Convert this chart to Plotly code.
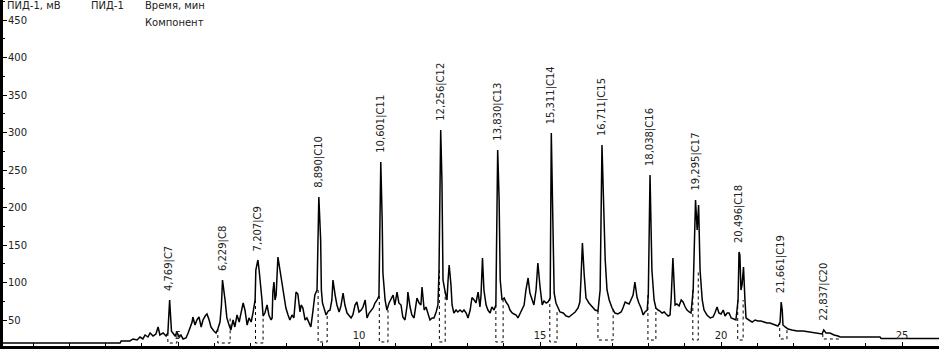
import plotly.graph_objects as go

# ---- chromatogram signal (time, min ; signal, mV) ----
time = [0.14, 3.40, 3.43, 3.67, 3.76, 3.87, 3.95, 4.03, 4.09, 4.17, 4.23, 4.31, 4.39, 4.45, 4.50, 4.59, 4.67, 4.72,
        4.769, 4.82, 4.92, 4.97, 5.03, 5.08, 5.14, 5.22, 5.28, 5.33, 5.39, 5.41, 5.47, 5.52, 5.58, 5.64, 5.69, 5.75,
        5.80, 5.86, 5.91, 5.99, 6.05, 6.10, 6.16, 6.20, 6.229, 6.30, 6.35, 6.41, 6.46, 6.52, 6.57, 6.63, 6.69, 6.74,
        6.80, 6.85, 6.91, 6.96, 7.02, 7.07, 7.13, 7.15, 7.207, 7.24, 7.29, 7.32, 7.35, 7.40, 7.46, 7.51, 7.57, 7.60,
        7.62, 7.65, 7.68, 7.71, 7.76, 7.82, 7.87, 7.93, 7.98, 8.04, 8.09, 8.15, 8.20, 8.26, 8.31, 8.37, 8.40, 8.45,
        8.51, 8.56, 8.62, 8.67, 8.73, 8.78, 8.84, 8.890, 8.94, 8.96, 8.99, 9.04, 9.09, 9.15, 9.20, 9.25, 9.28, 9.34,
        9.39, 9.45, 9.50, 9.56, 9.61, 9.67, 9.72, 9.78, 9.83, 9.89, 9.94, 10.00, 10.06, 10.11, 10.17, 10.22, 10.28,
        10.33, 10.39, 10.44, 10.50, 10.55, 10.601, 10.64, 10.66, 10.72, 10.77, 10.83, 10.88, 10.94, 10.99, 11.05,
        11.10, 11.16, 11.21, 11.27, 11.33, 11.35, 11.41, 11.46, 11.52, 11.57, 11.60, 11.66, 11.71, 11.74, 11.80,
        11.85, 11.91, 11.96, 12.02, 12.07, 12.13, 12.18, 12.21, 12.256, 12.29, 12.32, 12.38, 12.43, 12.46, 12.49,
        12.54, 12.57, 12.62, 12.68, 12.73, 12.79, 12.85, 12.90, 12.96, 13.01, 13.07, 13.12, 13.18, 13.23, 13.29,
        13.34, 13.37, 13.41, 13.45, 13.51, 13.56, 13.62, 13.67, 13.73, 13.78, 13.830, 13.87, 13.90, 13.95, 14.01,
        14.06, 14.12, 14.17, 14.23, 14.28, 14.34, 14.39, 14.45, 14.50, 14.56, 14.61, 14.67, 14.72, 14.78, 14.83,
        14.89, 14.94, 15.00, 15.06, 15.11, 15.17, 15.22, 15.28, 15.311, 15.36, 15.39, 15.44, 15.50, 15.55, 15.64,
        15.72, 15.80, 15.88, 15.97, 16.05, 16.10, 16.13, 16.17, 16.22, 16.27, 16.35, 16.44, 16.52, 16.60, 16.66,
        16.711, 16.74, 16.80, 16.85, 16.91, 16.99, 17.07, 17.15, 17.24, 17.29, 17.35, 17.40, 17.46, 17.51, 17.57,
        17.62, 17.68, 17.73, 17.79, 17.85, 17.90, 17.96, 17.99, 18.038, 18.07, 18.09, 18.15, 18.20, 18.26, 18.31,
        18.37, 18.43, 18.48, 18.54, 18.59, 18.62, 18.67, 18.70, 18.73, 18.78, 18.84, 18.90, 18.95, 19.01, 19.06,
        19.12, 19.17, 19.23, 19.295, 19.34, 19.38, 19.42, 19.48, 19.53, 19.61, 19.70, 19.78, 19.83, 19.89, 19.94,
        20.00, 20.06, 20.11, 20.17, 20.22, 20.28, 20.36, 20.41, 20.47, 20.496, 20.52, 20.55, 20.58, 20.62, 20.66,
        20.69, 20.77, 20.86, 20.94, 21.02, 21.10, 21.19, 21.27, 21.35, 21.44, 21.52, 21.57, 21.63, 21.661, 21.69,
        21.71, 21.77, 21.85, 21.96, 22.10, 22.27, 22.46, 22.65, 22.79, 22.837, 22.90, 23.01, 23.12, 23.23, 23.29,
        24.39, 24.42, 26.02]

signal = [19.3, 19.3, 22.0, 22.0, 24.7, 23.3, 27.3, 24.7, 30.0, 27.3, 32.7, 28.7, 31.3, 40.7, 30.0, 32.7, 28.7, 32.7,
          76.7, 35.0, 28.7, 34.0, 27.3, 30.0, 24.7, 26.0, 32.7, 40.7, 47.3, 54.0, 43.3, 50.0, 54.0, 40.7, 50.0, 55.3,
          58.0, 50.0, 40.7, 35.3, 32.7, 38.0, 47.3, 70.0, 103.3, 76.7, 52.7, 43.3, 36.7, 50.0, 40.7, 56.7, 47.3, 59.3,
          72.7, 63.3, 43.3, 52.7, 47.3, 59.3, 76.7, 116.7, 130.0, 116.7, 94.0, 76.7, 55.3, 59.3, 70.0, 56.7, 50.0, 52.7,
          87.3, 100.7, 76.7, 83.3, 134.0, 114.0, 96.7, 76.7, 66.0, 56.7, 50.0, 56.7, 52.7, 87.3, 84.7, 60.7, 70.0, 66.0,
          50.0, 52.7, 47.3, 40.7, 63.3, 83.3, 90.0, 214.0, 156.7, 90.0, 72.7, 63.3, 56.7, 62.0, 63.3, 76.7, 103.3, 83.3,
          70.0, 60.7, 68.7, 86.0, 70.0, 59.3, 56.7, 52.7, 56.7, 70.0, 74.0, 60.7, 63.3, 67.3, 76.7, 52.7, 59.3,
          62.0, 66.0, 72.7, 76.7, 82.0, 260.7, 183.3, 112.7, 76.7, 63.3, 72.7, 76.7, 83.3, 70.0, 87.3,
          72.7, 70.0, 54.0, 50.0, 70.0, 87.3, 67.3, 56.7, 52.7, 70.0, 79.3, 72.7, 70.0, 94.0, 63.3,
          67.3, 56.7, 50.0, 52.7, 52.7, 60.7, 70.0, 116.7, 303.3, 236.7, 103.3, 87.3, 76.7, 103.3, 123.3,
          96.7, 70.0, 59.3, 63.3, 60.7, 63.3, 60.7, 63.3, 59.3, 52.7, 63.3, 80.0, 76.7, 72.7, 87.3,
          67.3, 83.3, 132.7, 90.0, 70.0, 63.3, 59.3, 67.3, 63.3, 70.0, 276.7, 210.0, 103.3, 76.7, 79.3,
          74.0, 70.0, 63.3, 59.3, 58.0, 56.7, 52.7, 59.3, 63.3, 70.0, 90.0, 106.0, 86.0, 76.7, 70.0,
          90.0, 126.0, 94.0, 70.0, 75.3, 72.7, 74.0, 79.3, 299.3, 170.0, 86.0, 72.7, 66.0, 60.7, 59.3,
          55.3, 54.0, 56.7, 60.7, 66.0, 74.0, 103.3, 152.7, 110.0, 79.3, 72.7, 67.3, 63.3, 62.0, 90.0,
          283.3, 236.7, 130.0, 90.0, 76.7, 66.0, 59.3, 58.0, 60.7, 66.0, 74.0, 72.7, 71.3, 76.7, 83.3,
          100.7, 80.0, 72.7, 66.0, 56.7, 60.7, 63.3, 83.3, 243.3, 183.3, 116.7, 76.7, 66.0, 63.3, 62.0,
          59.3, 60.7, 58.0, 55.3, 56.7, 76.7, 132.7, 90.0, 70.0, 71.3, 68.7, 76.7, 74.0, 67.3, 63.3,
          60.7, 59.3, 90.0, 210.0, 170.0, 203.3, 116.7, 76.7, 63.3, 56.7, 52.7, 54.0, 59.3, 67.3, 59.3,
          58.0, 63.3, 55.3, 59.3, 59.3, 52.7, 51.3, 50.0, 76.7, 140.7, 136.7, 90.0, 96.7, 120.7, 76.7,
          52.7, 50.0, 47.3, 50.0, 48.7, 48.7, 47.3, 46.0, 46.0, 44.7, 43.3, 42.0, 47.3, 74.0, 63.3,
          43.3, 40.7, 38.0, 36.7, 35.3, 35.3, 34.0, 32.7, 31.3, 36.7, 32.7, 32.7, 30.0, 28.7, 27.3,
          27.3, 25.3, 25.3]

# ---- identified peaks ----
peak_names = ["C7", "C8", "C9", "C10", "C11", "C12", "C13", "C14", "C15", "C16", "C17", "C18", "C19", "C20"]
peak_times = [4.769, 6.229, 7.207, 8.890, 10.601, 12.256, 13.830, 15.311, 16.711, 18.038, 19.295, 20.496, 21.661, 22.837]
peak_heights = [76.7, 103.3, 130.0, 214.0, 260.7, 303.3, 276.7, 299.3, 283.3, 243.3, 210.0, 140.7, 74.0, 36.7]
peak_labels = ["4,769|C7", "6,229|C8", "7,207|C9", "8,890|C10", "10,601|C11", "12,256|C12", "13,830|C13",
               "15,311|C14", "16,711|C15", "18,038|C16", "19,295|C17", "20,496|C18", "21,661|C19", "22,837|C20"]

# integration boundaries (dotted boxes)
peak_start = [4.72, 6.10, 7.14, 8.87, 10.56, 12.22, 13.78, 15.27, 16.60, 17.98, 19.22, 20.46, 21.62, 22.81]
peak_end = [4.97, 6.44, 7.35, 9.12, 10.80, 12.38, 13.98, 15.47, 17.02, 18.20, 19.37, 20.61, 21.82, 23.26]
start_level = [32.7, 38.0, 76.7, 90.0, 82.0, 116.7, 70.0, 79.3, 62.0, 83.3, 90.0, 76.7, 47.3, 31.3]
end_level = [34.0, 52.7, 55.3, 57.0, 63.3, 87.3, 76.7, 60.7, 66.0, 66.0, 116.7, 76.7, 40.7, 28.7]
box_bottom = [19.3, 19.3, 19.3, 20.7, 20.7, 20.7, 20.7, 20.7, 23.3, 23.3, 23.3, 23.3, 24.7, 24.7]

y_ticks = [50, 100, 150, 200, 250, 300, 350, 400, 450]
x_ticks = [5, 10, 15, 20, 25]

FONT = "DejaVu Sans"

fig = go.Figure()

# dotted integration boxes
bx, by = [], []
for s, e, ls, le, b in zip(peak_start, peak_end, start_level, end_level, box_bottom):
    bx += [s, s, e, e, None]
    by += [ls, b, b, le, None]
fig.add_trace(go.Scatter(x=bx, y=by, mode="lines",
                         line=dict(color="black", width=1, dash="dot"),
                         hoverinfo="skip", showlegend=False))

fig.add_trace(go.Scatter(x=time, y=signal, mode="lines",
                         line=dict(color="black", width=1.5),
                         showlegend=False))

for t, h, lab in zip(peak_times, peak_heights, peak_labels):
    fig.add_annotation(x=t, y=h, text=lab, textangle=-90, showarrow=False,
                       xanchor="center", yanchor="bottom", yshift=7,
                       font=dict(family=FONT, size=10, color="#222"))

# header texts
hdr = dict(xref="paper", yref="paper", showarrow=False, xanchor="left", yanchor="middle",
           font=dict(family=FONT, size=10, color="#222"))
fig.add_annotation(x=0.002, y=0.983, text="ПИД-1, мВ", **hdr)
fig.add_annotation(x=0.092, y=0.983, text="ПИД-1", **hdr)
fig.add_annotation(x=0.150, y=0.983, text="Время, мин", **hdr)
fig.add_annotation(x=0.150, y=0.935, text="Компонент", **hdr)

fig.update_layout(
    width=939, height=350,
    margin=dict(l=3, r=0, t=0, b=4),
    paper_bgcolor="white", plot_bgcolor="white",
    font=dict(family=FONT, size=10, color="#222"),
    xaxis=dict(range=[0.166, 26.02], showgrid=False, zeroline=False,
               showline=True, linecolor="black", linewidth=3,
               tickmode="array", tickvals=x_ticks, ticktext=[str(v) for v in x_ticks],
               ticks="inside", ticklen=4, tickcolor="black",
               ticklabelposition="inside",
               minor=dict(dtick=1, tick0=0, ticks="inside", ticklen=3, tickcolor="black"),
               tickfont=dict(family=FONT, size=10, color="#222")),
    yaxis=dict(range=[15.33, 476.7], showgrid=False, zeroline=False,
               showline=True, linecolor="black", linewidth=3,
               tickmode="array", tickvals=y_ticks, ticktext=[str(v) for v in y_ticks],
               ticks="inside", ticklen=4, tickcolor="black",
               ticklabelposition="inside",
               minor=dict(dtick=25, tick0=0, ticks="inside", ticklen=2, tickcolor="black"),
               tickfont=dict(family=FONT, size=10, color="#222")),
)

fig.write_html("out.html", config={"displayModeBar": False},
               post_script="document.body.style.margin='0px';document.body.style.overflow='hidden';")
